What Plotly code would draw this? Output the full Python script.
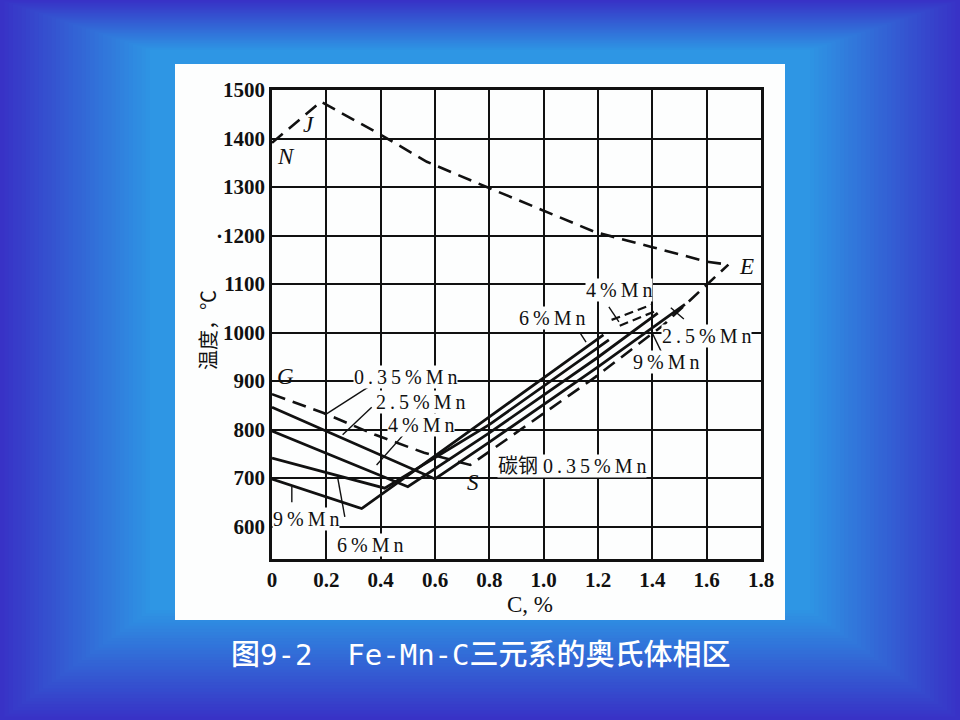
import plotly.graph_objects as go

# ---------------- data ----------------
# N-J-E boundary, dashed (carbon steel)
nje_c = [0, 0.18, 0.39, 0.57, 0.76, 0.99, 1.19, 1.40, 1.60, 1.68]
nje_t = [1391, 1476, 1411, 1352, 1307, 1253, 1207, 1176, 1146, 1140]

# G-S-E boundary, carbon steel 0.35%Mn, dashed
gse_c = [0, 0.19, 0.38, 0.56, 0.73, 0.98, 1.19, 1.44, 1.68]
gse_t = [873, 834, 789, 752, 727, 826, 908, 1015, 1140]

# solid alloy boundaries
mn25_c = [0, 0.60, 0.80, 1.20, 1.52]
mn25_t = [846, 698, 774, 929, 1058]

mn4_c = [0, 0.50, 0.80, 1.20, 1.42]
mn4_t = [797, 682, 793, 949, 1040]

mn6_c = [0, 0.415, 0.80, 1.20, 1.24]
mn6_t = [741, 679, 810, 968, 985]

mn9_c = [0, 0.33, 0.80, 1.22]
mn9_t = [698, 637, 826, 995]

# short dashed extensions near the 4%Mn label
ext1_c = [1.25, 1.40]
ext1_t = [1026, 1058]
ext2_c = [1.28, 1.42]
ext2_t = [1014, 1046]

# tick labels
x_ticks = [0, 0.2, 0.4, 0.6, 0.8, 1.0, 1.2, 1.4, 1.6, 1.8]
x_ticktext = ["0", "0.2", "0.4", "0.6", "0.8", "1.0", "1.2", "1.4", "1.6", "1.8"]
y_ticks = [600, 700, 800, 900, 1000, 1100, 1200, 1300, 1400, 1500]
y_ticktext = ["600", "700", "800", "900", "1000", "1100", "·1200", "1300", "1400", "1500"]

# text labels: (text, C, T)
point_labels = [("N", 0.05, 1362), ("J", 0.135, 1428), ("E", 1.745, 1137),
                ("G", 0.05, 910), ("S", 0.74, 690)]
curve_labels = [("0.35%Mn", 0.49, 908), ("2.5%Mn", 0.545, 857), ("4%Mn", 0.55, 809),
                ("9%Mn", 0.125, 615), ("6%Mn", 0.36, 562), ("碳钢 0.35%Mn", 1.105, 725),
                ("6%Mn", 1.03, 1030), ("4%Mn", 1.277, 1088), ("2.5%Mn", 1.60, 993),
                ("9%Mn", 1.45, 939)]
# leader lines: (C0, T0, C1, T1)
leaders = [(0.367, 892, 0.195, 830), (0.367, 846, 0.26, 789), (0.49, 793, 0.385, 727),
           (0.073, 650, 0.073, 682), (0.268, 620, 0.242, 700),
           (1.134, 999, 1.156, 980), (1.24, 1053, 1.277, 1022),
           (1.516, 1028, 1.468, 1051), (1.435, 958, 1.398, 1001)]

# ---------------- figure ----------------
W, H = 960, 720
ML, MR, MT, MB = 272, 199, 90, 161
PW, PH = W - ML - MR, H - MT - MB


def px(x):
    return (x - ML) / PW


def py(y):
    return (H - MB - y) / PH


fig = go.Figure()

solid = dict(color="#111111", width=2.8)
dashed = dict(color="#111111", width=2.6, dash="14px,8px")

fig.add_trace(go.Scatter(x=nje_c, y=nje_t, mode="lines", line=dashed))
fig.add_trace(go.Scatter(x=gse_c, y=gse_t, mode="lines", line=dashed))
for cc, tt in [(mn25_c, mn25_t), (mn4_c, mn4_t), (mn6_c, mn6_t), (mn9_c, mn9_t)]:
    fig.add_trace(go.Scatter(x=cc, y=tt, mode="lines", line=solid))
for cc, tt in [(ext1_c, ext1_t), (ext2_c, ext2_t)]:
    fig.add_trace(go.Scatter(x=cc, y=tt, mode="lines",
                             line=dict(color="#111111", width=2.2, dash="9px,5px")))

shapes = []
# background gradient (concentric rectangles)
outer = (56, 50, 198)
inner = (46, 150, 228)
N = 36
for i in range(N):
    t = i / (N - 1)
    x0 = 0 + 150 * t
    x1 = W - 150 * t
    y0 = 0 + 50 * t
    y1 = H - 110 * t
    col = tuple(round(outer[k] + (inner[k] - outer[k]) * t) for k in range(3))
    shapes.append(dict(type="rect", xref="paper", yref="paper",
                       x0=px(x0), x1=px(x1), y0=py(y1), y1=py(y0),
                       fillcolor="rgb(%d,%d,%d)" % col, line=dict(width=0), layer="below"))
# white panel
shapes.append(dict(type="rect", xref="paper", yref="paper",
                   x0=px(175), x1=px(785), y0=py(620), y1=py(64),
                   fillcolor="#fdfefe", line=dict(width=0), layer="below"))
for c0, t0, c1, t1 in leaders:
    shapes.append(dict(type="line", xref="x", yref="y", x0=c0, y0=t0, x1=c1, y1=t1,
                       line=dict(color="#111111", width=1.4)))
fig.update_layout(shapes=shapes)

serif = "Liberation Serif, DejaVu Serif, serif"
ann = []
for txt, c, t in point_labels:
    ann.append(dict(x=c, y=t, xref="x", yref="y", text="<i>%s</i>" % txt, showarrow=False,
                    xanchor="center", yanchor="middle",
                    font=dict(family=serif, size=23, color="#111111")))
for txt, c, t in curve_labels:
    spaced = "\u2009".join(list(txt)) if "碳" not in txt else txt[:3] + "\u2009".join(list(txt[3:]))
    ann.append(dict(x=c, y=t, xref="x", yref="y", text=spaced, showarrow=False,
                    xanchor="center", yanchor="middle",
                    bgcolor="#fdfefe", borderpad=0,
                    font=dict(family="Liberation Serif, Noto Sans CJK SC, serif", size=20, color="#111111")))
# axis titles
ann.append(dict(x=px(530), y=py(604), xref="paper", yref="paper", text="C, %", showarrow=False,
                xanchor="center", yanchor="middle",
                font=dict(family=serif, size=23, color="#111111")))
ann.append(dict(x=px(207), y=py(330), xref="paper", yref="paper", text="温度，℃", showarrow=False,
                xanchor="center", yanchor="middle",
                textangle=-90, font=dict(family="Noto Sans CJK SC", size=20, color="#111111")))
# caption
ann.append(dict(x=px(481), y=py(655), xref="paper", yref="paper",
                text="图9-2  Fe-Mn-C三元系的奥氏体相区", showarrow=False,
                xanchor="center", yanchor="middle",
                font=dict(family="DejaVu Sans Mono, Noto Sans CJK SC", size=29, color="white",
                          weight=500)))
fig.update_layout(annotations=ann)

fig.update_layout(
    width=W, height=H, margin=dict(l=ML, r=MR, t=MT, b=MB, autoexpand=False),
    paper_bgcolor="rgb(56,50,198)", plot_bgcolor="#fdfefe", showlegend=False,
    xaxis=dict(range=[0, 1.8], tickvals=x_ticks, ticktext=x_ticktext, showgrid=True,
               gridcolor="#111111", gridwidth=2, showline=True, linecolor="#111111",
               linewidth=2.5, mirror=True, zeroline=False, ticks="",
               tickfont=dict(family=serif, size=21, color="#111111", weight="bold")),
    yaxis=dict(range=[533, 1500], tickvals=y_ticks, ticktext=y_ticktext, showgrid=True,
               gridcolor="#111111", gridwidth=2, showline=True, linecolor="#111111",
               linewidth=2.5, mirror=True, zeroline=False, ticks="",
               tickfont=dict(family=serif, size=21, color="#111111", weight="bold")),
)

fig.write_html("out.html", post_script="document.body.style.margin='0px';",
               config={"displayModeBar": False})
